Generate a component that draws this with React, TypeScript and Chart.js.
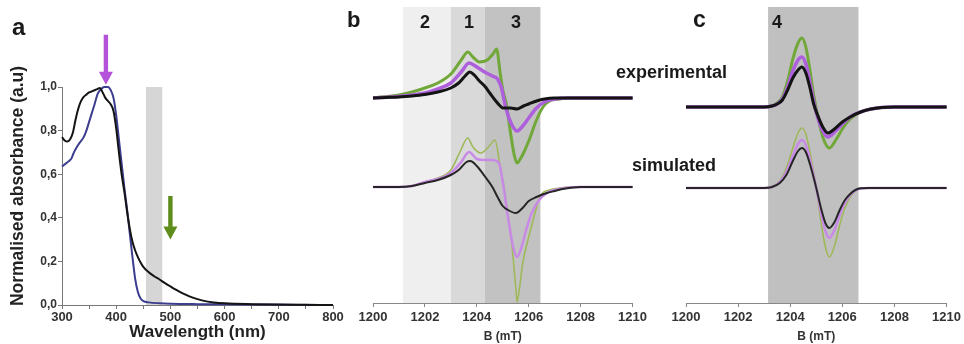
import React, { useEffect, useRef } from "react";
import { Chart, registerables } from "chart.js";

Chart.register(...registerables);

const FONT = "'Liberation Sans', Arial, sans-serif";

// ---------- Panel a : absorbance spectra ----------
const aBlack: [number, number][] = [
  [300, 0.77], [305, 0.755], [310, 0.75], [315, 0.76], [320, 0.79], [325, 0.85], [330, 0.9],
  [335, 0.935], [340, 0.955], [345, 0.965], [350, 0.975], [355, 0.98], [360, 0.985], [365, 0.99],
  [370, 0.995], [375, 0.975], [380, 0.95], [385, 0.935], [390, 0.92], [395, 0.89], [400, 0.81],
  [405, 0.7], [410, 0.6], [415, 0.52], [420, 0.43], [425, 0.35], [430, 0.29], [435, 0.25],
  [440, 0.22], [445, 0.195], [450, 0.175], [460, 0.15], [470, 0.132], [480, 0.117], [490, 0.1],
  [500, 0.085], [510, 0.07], [520, 0.057], [530, 0.045], [540, 0.035], [550, 0.027], [560, 0.02],
  [580, 0.012], [600, 0.008], [650, 0.004], [700, 0.002], [750, 0.001], [800, 0],
];
const aBlue: [number, number][] = [
  [300, 0.635], [305, 0.645], [310, 0.655], [315, 0.665], [318, 0.675], [322, 0.7], [330, 0.735],
  [340, 0.77], [345, 0.8], [350, 0.84], [355, 0.88], [360, 0.92], [366, 0.97], [372, 0.99],
  [378, 1.0], [385, 1.0], [390, 0.985], [395, 0.95], [400, 0.87], [405, 0.76], [410, 0.65],
  [415, 0.54], [420, 0.44], [425, 0.33], [430, 0.22], [435, 0.12], [440, 0.06], [445, 0.03],
  [450, 0.018], [460, 0.012], [480, 0.008], [500, 0.006], [550, 0.004], [600, 0.003],
  [700, 0.001], [800, 0],
];
const aXTickValues = [300, 400, 500, 600, 700, 800];
const aXTickLabels = ["300", "400", "500", "600", "700", "800"];
const aYTickValues = [0, 0.2, 0.4, 0.6, 0.8, 1.0];
const aYTickLabels = ["0,0", "0,2", "0,4", "0,6", "0,8", "1,0"];
const aBandStart = [455];
const aBandEnd = [485];
const aArrowNm = [381, 500];
const aArrowTop = [1.24, 0.5];
const aArrowTip = [1.01, 0.3];

// ---------- Panel b : EPR spectra (intensity, arb. units) ----------
const bExpBlack: [number, number][] = [
  [1200, 0], [1200.5, 0.5], [1201, 1], [1201.5, 2], [1202, 3.5], [1202.5, 6], [1203, 10],
  [1203.3, 15], [1203.55, 22], [1203.73, 26], [1203.9, 23], [1204.1, 17], [1204.3, 12],
  [1204.5, 5], [1204.7, -2], [1204.9, -8], [1205.0, -10], [1205.3, -10], [1205.55, -11],
  [1205.8, -8], [1206.0, -6], [1206.3, -3], [1206.6, -1], [1207, 0], [1208, 0], [1209, 0], [1210, 0],
];
const bExpPurple: [number, number][] = [
  [1200, 0], [1201, 1.5], [1202, 5], [1202.5, 9], [1203, 15], [1203.4, 26], [1203.7, 35],
  [1204.0, 31], [1204.3, 26], [1204.6, 22], [1204.8, 19], [1204.95, 10], [1205.1, -8],
  [1205.3, -24], [1205.55, -33], [1205.8, -27], [1206.0, -20], [1206.3, -10], [1206.6, -4],
  [1207, -1], [1207.5, 0], [1210, 0],
];
const bExpGreen: [number, number][] = [
  [1200, 0], [1201, 3], [1201.5, 6], [1202, 10], [1202.5, 15], [1203, 24], [1203.4, 38],
  [1203.65, 46], [1203.85, 41], [1204.1, 36], [1204.4, 38], [1204.65, 45], [1204.76, 49],
  [1204.9, 25], [1205.0, 8], [1205.13, -5], [1205.3, -35], [1205.45, -58], [1205.55, -65],
  [1205.65, -62], [1205.8, -55], [1206.0, -43], [1206.3, -22], [1206.55, -9], [1206.8, -3],
  [1207.2, -1], [1207.6, 0], [1210, 0],
];
const bSimBlack: [number, number][] = [
  [1200, 0], [1201, 0], [1201.5, 1], [1202, 4], [1202.5, 7], [1203, 12], [1203.3, 17],
  [1203.6, 25], [1203.75, 26], [1204.0, 21], [1204.3, 11], [1204.6, 0], [1204.8, -10],
  [1205.0, -19], [1205.2, -23], [1205.5, -26], [1205.8, -20], [1206.0, -14], [1206.3, -10],
  [1206.7, -6], [1207.0, -4], [1207.3, -2], [1207.7, -0.5], [1208, 0], [1210, 0],
];
const bSimPurple: [number, number][] = [
  [1200, 0], [1201, 0], [1201.5, 1], [1202, 5], [1202.5, 8], [1203, 14], [1203.4, 25],
  [1203.7, 35], [1204.0, 28], [1204.3, 27], [1204.6, 27], [1204.85, 24], [1205.0, 5],
  [1205.2, -30], [1205.4, -60], [1205.55, -70], [1205.7, -62], [1205.9, -43], [1206.1, -27],
  [1206.4, -13], [1206.7, -6], [1207.0, -3], [1207.4, -1], [1208, 0], [1210, 0],
];
const bSimGreen: [number, number][] = [
  [1200, 0], [1201, 0], [1201.5, 1], [1202, 5], [1202.5, 9], [1203, 17], [1203.35, 35],
  [1203.65, 49], [1203.85, 40], [1204.15, 34], [1204.45, 40], [1204.7, 47], [1204.9, 20],
  [1205.05, 0], [1205.15, -20], [1205.33, -53], [1205.5, -100], [1205.55, -115],
  [1205.65, -100], [1205.77, -76], [1206.0, -50], [1206.14, -36], [1206.35, -16],
  [1206.5, -7], [1206.8, -3], [1207.2, -1], [1207.6, 0], [1210, 0],
];
const bBandStart = [1201.15, 1203.0, 1204.3];
const bBandEnd = [1203.0, 1204.3, 1206.45];

// ---------- Panel c : EPR spectra ----------
const cExpBlack: [number, number][] = [
  [1200, 0], [1203.0, 0], [1203.3, 1], [1203.5, 3], [1203.7, 7], [1203.9, 17], [1204.1, 29],
  [1204.3, 37], [1204.45, 40], [1204.6, 34], [1204.75, 20], [1204.9, 3], [1205.05, -8],
  [1205.25, -20], [1205.45, -26], [1205.7, -22], [1206.0, -15], [1206.3, -10], [1206.7, -5],
  [1207.1, -2], [1207.5, -0.5], [1208, 0], [1210, 0],
];
const cExpPurple: [number, number][] = [
  [1200, 0], [1203.0, 0], [1203.3, 1], [1203.5, 3], [1203.7, 8], [1203.9, 20], [1204.1, 36],
  [1204.3, 47], [1204.45, 50], [1204.6, 43], [1204.75, 26], [1204.9, 6], [1205.05, -10],
  [1205.25, -24], [1205.45, -30], [1205.7, -25], [1206.0, -17], [1206.3, -10], [1206.7, -5],
  [1207.1, -2], [1207.5, -0.5], [1208, 0], [1210, 0],
];
const cExpGreen: [number, number][] = [
  [1200, 0], [1203.0, 0], [1203.3, 1], [1203.5, 4], [1203.7, 10], [1203.9, 26], [1204.1, 48],
  [1204.3, 64], [1204.45, 69], [1204.6, 60], [1204.75, 38], [1204.9, 12], [1205.05, -8],
  [1205.25, -30], [1205.5, -41], [1205.75, -33], [1206.0, -22], [1206.3, -12], [1206.7, -5],
  [1207.1, -2], [1207.5, -0.5], [1208, 0], [1210, 0],
];
const cSimBlack: [number, number][] = [
  [1200, 0], [1203.0, 0], [1203.3, 1], [1203.6, 5], [1203.85, 13], [1204.1, 27], [1204.3, 37],
  [1204.45, 40], [1204.6, 36], [1204.8, 20], [1205.0, 0], [1205.2, -22], [1205.35, -35],
  [1205.5, -40], [1205.7, -34], [1205.9, -22], [1206.1, -12], [1206.3, -6], [1206.5, -2],
  [1206.7, -0.3], [1207, 0], [1210, 0],
];
const cSimPurple: [number, number][] = [
  [1200, 0], [1203.0, 0], [1203.3, 1], [1203.6, 6], [1203.85, 16], [1204.1, 32], [1204.3, 44],
  [1204.45, 48], [1204.6, 43], [1204.8, 24], [1205.0, 0], [1205.2, -27], [1205.35, -43],
  [1205.5, -50], [1205.7, -42], [1205.9, -27], [1206.1, -15], [1206.3, -7], [1206.5, -2.5],
  [1206.7, -0.4], [1207, 0], [1210, 0],
];
const cSimGreen: [number, number][] = [
  [1200, 0], [1203.0, 0], [1203.3, 1.5], [1203.6, 7], [1203.85, 20], [1204.1, 40], [1204.3, 55],
  [1204.45, 60], [1204.6, 54], [1204.8, 30], [1205.0, 0], [1205.2, -37], [1205.35, -59],
  [1205.5, -69], [1205.7, -58], [1205.9, -37], [1206.1, -20], [1206.3, -9], [1206.5, -3],
  [1206.7, -0.5], [1207, 0], [1210, 0],
];
const cBandStart = [1203.15];
const cBandEnd = [1206.62];

const eprXTickValues = [1200, 1202, 1204, 1206, 1208, 1210];
const eprXTickLabels = ["1200", "1202", "1204", "1206", "1208", "1210"];
// vertical stacking offsets of the experimental / simulated traces
const bOffsets = { exp: 89, sim: 0 };
const cOffsets = { exp: 80, sim: -1 };

// ---------- styles ----------
const C_BLACK = "#141414";
const C_BLUE = "#3d3d8f";
const C_EXP_GREEN = "#72a83a";
const C_EXP_PURPLE = "#ad5fdc";
const C_SIM_GREEN = "#9fb85a";
const C_SIM_PURPLE = "#c88ae6";
const C_SIM_BLACK = "#262626";

const pts = (arr: [number, number][], off = 0) => arr.map(([x, y]) => ({ x, y: y + off }));

const line = (data: any, color: string, width: number) => ({
  data,
  borderColor: color,
  borderWidth: width,
  pointRadius: 0,
  fill: false,
  cubicInterpolationMode: "monotone" as const,
  clip: false as any,
});

const bandPlugin = (starts: number[], ends: number[], colors: string[]) => ({
  id: "bands",
  beforeDraw(chart: any) {
    const { ctx, chartArea, scales } = chart;
    ctx.save();
    starts.forEach((s, i) => {
      const x0 = scales.x.getPixelForValue(s);
      const x1 = scales.x.getPixelForValue(ends[i]);
      ctx.fillStyle = colors[i];
      ctx.fillRect(x0, chartArea.top, x1 - x0, chartArea.bottom - chartArea.top);
    });
    ctx.restore();
  },
});

const arrowPlugin = {
  id: "arrows",
  afterDatasetsDraw(chart: any) {
    const { ctx, scales } = chart;
    const colors = ["#b552da", "#5e8d1c"];
    ctx.save();
    aArrowNm.forEach((nm, i) => {
      const px = scales.x.getPixelForValue(nm);
      const yTop = scales.y.getPixelForValue(aArrowTop[i]);
      const yTip = scales.y.getPixelForValue(aArrowTip[i]);
      const headH = 13;
      const headW = 7;
      const shaftW = 2.2;
      ctx.fillStyle = colors[i];
      ctx.beginPath();
      ctx.moveTo(px - shaftW, yTop);
      ctx.lineTo(px + shaftW, yTop);
      ctx.lineTo(px + shaftW, yTip - headH);
      ctx.lineTo(px + headW, yTip - headH);
      ctx.lineTo(px, yTip);
      ctx.lineTo(px - headW, yTip - headH);
      ctx.lineTo(px - shaftW, yTip - headH);
      ctx.closePath();
      ctx.fill();
    });
    ctx.restore();
  },
};

const noPlugins = { legend: { display: false }, tooltip: { enabled: false } };

function buildA(): any {
  return {
    type: "line",
    data: {
      datasets: [line(pts(aBlack), C_BLACK, 2), line(pts(aBlue), C_BLUE, 2)],
    },
    options: {
      animation: false,
      responsive: false,
      maintainAspectRatio: false,
      layout: { padding: { top: 87, right: 17, left: 0, bottom: 0 } },
      plugins: noPlugins,
      scales: {
        x: {
          type: "linear",
          min: 300,
          max: 800,
          afterFit: (s: any) => { s.height = 39; },
          afterBuildTicks: (s: any) => {
            const t: any[] = [];
            for (const v of aXTickValues) { t.push({ value: v }); if (v < 800) t.push({ value: v + 50 }); }
            s.ticks = t;
          },
          ticks: {
            autoSkip: false,
            maxRotation: 0,
            padding: 1,
            color: "#333",
            font: { family: FONT, size: 13, weight: "bold" },
            callback: (v: number) => {
              const i = aXTickValues.indexOf(v);
              return i >= 0 ? aXTickLabels[i] : "";
            },
          },
          grid: { drawOnChartArea: false, drawTicks: true, tickLength: 4, color: "#777" },
          border: { display: true, color: "#777", width: 1 },
          title: {
            display: true,
            text: "Wavelength (nm)",
            color: "#222",
            font: { family: FONT, size: 17, weight: "bold" },
            padding: { top: 0, bottom: 1 },
          },
        },
        y: {
          type: "linear",
          min: 0,
          max: 1,
          afterFit: (s: any) => { s.width = 62; },
          afterBuildTicks: (s: any) => { s.ticks = aYTickValues.map((v) => ({ value: v })); },
          ticks: {
            padding: 1,
            color: "#333",
            font: { family: FONT, size: 12, weight: "bold" },
            callback: (v: number, i: number) => aYTickLabels[i],
          },
          grid: { drawOnChartArea: false, drawTicks: true, tickLength: 4, color: "#777" },
          border: { display: true, color: "#777", width: 1 },
          title: { display: false },
        },
      },
    },
    plugins: [bandPlugin(aBandStart, aBandEnd, ["#d6d6d6"]), arrowPlugin],
  };
}

function eprOptions(padLeft: number, padRight: number) {
  return {
    animation: false,
    responsive: false,
    maintainAspectRatio: false,
    layout: { padding: { top: 7, right: padRight, left: padLeft, bottom: 0 } },
    plugins: noPlugins,
    scales: {
      x: {
        type: "linear",
        min: 1200,
        max: 1210,
        afterFit: (s: any) => { s.height = 41; },
        afterBuildTicks: (s: any) => { s.ticks = eprXTickValues.map((v) => ({ value: v })); },
        ticks: {
          autoSkip: false,
          maxRotation: 0,
          padding: 3,
          color: "#333",
          font: { family: FONT, size: 13, weight: "bold" },
          callback: (v: number, i: number) => eprXTickLabels[i],
        },
        grid: { drawOnChartArea: false, drawTicks: true, tickLength: 4, color: "#888" },
        border: { display: true, color: "#888", width: 1 },
        title: {
          display: true,
          text: "B (mT)",
          color: "#333",
          font: { family: FONT, size: 12, weight: "bold" },
          padding: { top: 0, bottom: 0 },
        },
      },
      y: { type: "linear", display: false, min: -116, max: 180 },
    },
  };
}

function buildB(): any {
  return {
    type: "line",
    data: {
      datasets: [
        line(pts(bExpBlack, bOffsets.exp), C_BLACK, 3),
        line(pts(bExpPurple, bOffsets.exp), C_EXP_PURPLE, 3.5),
        line(pts(bExpGreen, bOffsets.exp), C_EXP_GREEN, 3),
        line(pts(bSimBlack, bOffsets.sim), C_SIM_BLACK, 2),
        line(pts(bSimPurple, bOffsets.sim), C_SIM_PURPLE, 2.5),
        line(pts(bSimGreen, bOffsets.sim), C_SIM_GREEN, 1.6),
      ],
    },
    options: eprOptions(33, 16),
    plugins: [bandPlugin(bBandStart, bBandEnd, ["#efefef", "#d9d9d9", "#c2c2c2"])],
  };
}

function buildC(): any {
  return {
    type: "line",
    data: {
      datasets: [
        line(pts(cExpBlack, cOffsets.exp), C_BLACK, 3),
        line(pts(cExpPurple, cOffsets.exp), C_EXP_PURPLE, 3.5),
        line(pts(cExpGreen, cOffsets.exp), C_EXP_GREEN, 3),
        line(pts(cSimBlack, cOffsets.sim), C_SIM_BLACK, 2),
        line(pts(cSimPurple, cOffsets.sim), C_SIM_PURPLE, 2.5),
        line(pts(cSimGreen, cOffsets.sim), C_SIM_GREEN, 1.6),
      ],
    },
    options: eprOptions(36, 16),
    plugins: [bandPlugin(cBandStart, cBandEnd, ["#c0c0c0"])],
  };
}

function ChartCanvas({ left, width, build }: { left: number; width: number; build: () => any }) {
  const ref = useRef<HTMLCanvasElement | null>(null);
  useEffect(() => {
    if (!ref.current) return;
    const chart = new Chart(ref.current, build());
    return () => chart.destroy();
  }, []);
  return (
    <canvas
      ref={ref}
      width={width}
      height={344}
      style={{ position: "absolute", left, top: 0, width, height: 344 }}
    />
  );
}

const label = (text: string, left: number, top: number, size: number, extra: any = {}) => (
  <div
    style={{
      position: "absolute",
      left,
      top,
      fontFamily: FONT,
      fontWeight: "bold",
      fontSize: size,
      lineHeight: 1,
      color: "#1a1a1a",
      whiteSpace: "nowrap",
      ...extra,
    }}
  >
    {text}
  </div>
);

export default function App() {
  return (
    <div
      style={{
        position: "fixed",
        left: 0,
        top: 0,
        width: 964,
        height: 344,
        background: "#fff",
        overflow: "hidden",
      }}
    >
      <ChartCanvas left={0} width={350} build={buildA} />
      <ChartCanvas left={340} width={310} build={buildB} />
      <ChartCanvas left={650} width={314} build={buildC} />
      {label("Normalised absorbance (a.u)", 17 - 150, 186 - 9, 17.5, {
        width: 300,
        textAlign: "center",
        transform: "rotate(-90deg)",
        transformOrigin: "50% 50%",
        color: "#222",
        lineHeight: "18px",
      })}
      {label("a", 12, 15, 24)}
      {label("b", 347, 9, 22)}
      {label("c", 693, 8, 23)}
      {label("2", 420, 13, 18)}
      {label("1", 464, 13, 18)}
      {label("3", 511, 13, 18)}
      {label("4", 772, 13, 18)}
      {label("experimental", 616, 63, 18)}
      {label("simulated", 632, 156, 18)}
    </div>
  );
}
